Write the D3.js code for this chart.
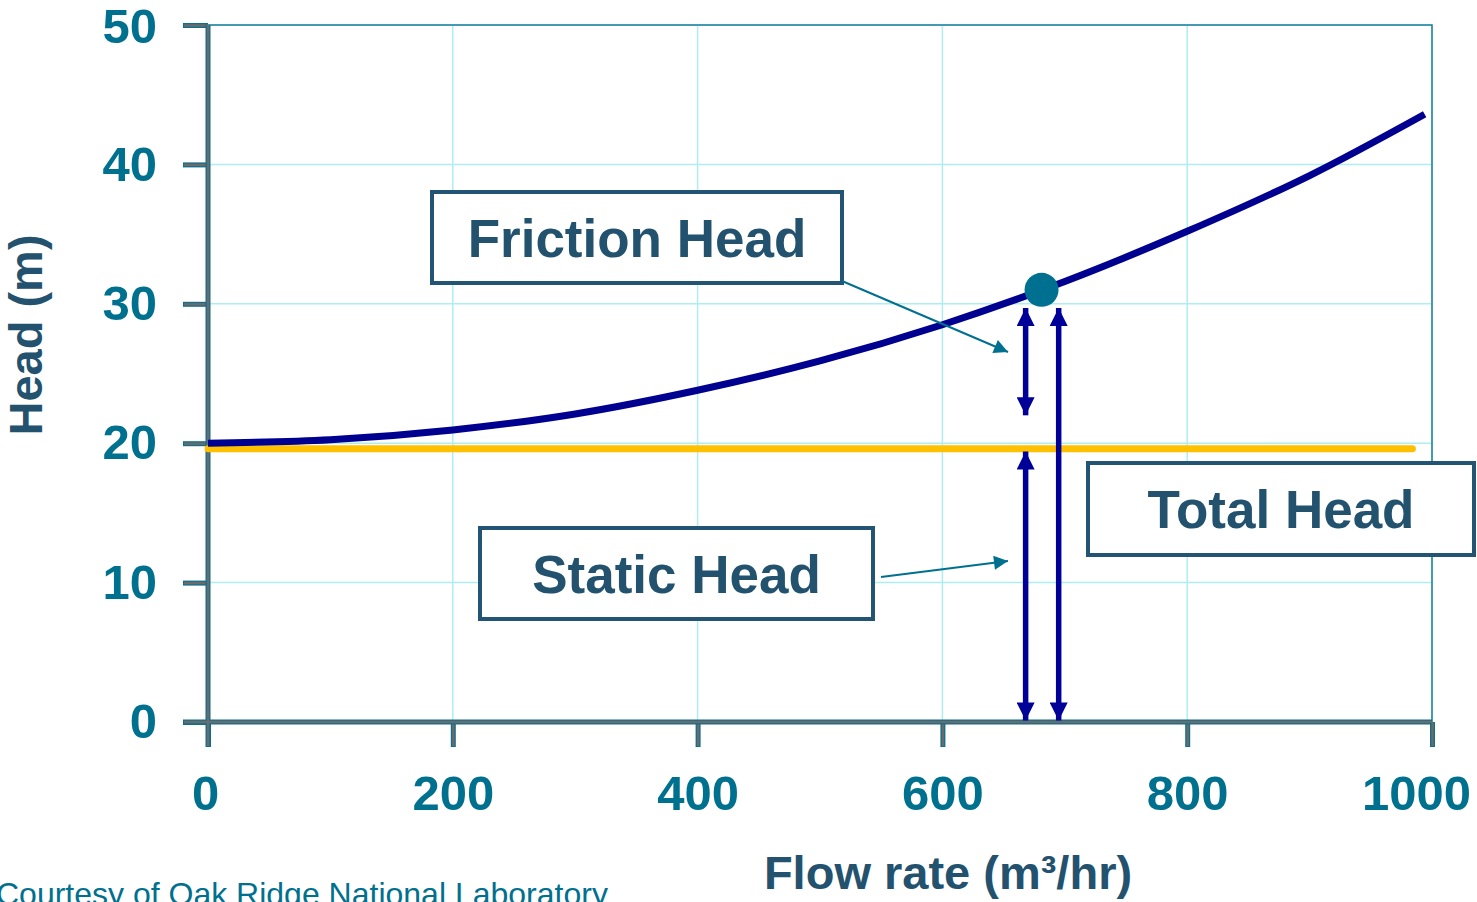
<!DOCTYPE html>
<html>
<head>
<meta charset="utf-8">
<script src="https://cdn.jsdelivr.net/npm/d3@7"></script>
<style>
  body { margin: 0; background: #fff; }
  svg text { font-family: "Liberation Sans", Arial, sans-serif; }
</style>
</head>
<body>
<div id="chart"></div>
<script>
// system curve
var flow = [0, 100, 200, 300, 400, 500, 600, 700, 800, 900, 994];
var systemHead = [20, 20.25, 20.95, 22.1, 23.8, 25.9, 28.5, 31.6, 35.2, 39.2, 43.6];
var staticFlow = [0, 984];
var staticHead = [19.6, 19.6];
var operatingPoint = [681, 31.0];
var xTicks = [0, 200, 400, 600, 800, 1000];
var yTicks = [0, 10, 20, 30, 40, 50];

var svgWidth = 1477;
var svgHeight = 902;

var margin = { top: 25, right: 45, bottom: 180, left: 208 };
var width = svgWidth - margin.left - margin.right;
var height = svgHeight - margin.top - margin.bottom;

var svg = d3.select("#chart")
    .append("svg")
    .attr("width", svgWidth)
    .attr("height", svgHeight);

var defs = svg.append("defs");
function marker(id, color, w, h) {
    defs.append("marker")
        .attr("id", id)
        .attr("viewBox", "0 0 10 10")
        .attr("refX", 10).attr("refY", 5)
        .attr("markerUnits", "userSpaceOnUse")
        .attr("markerWidth", w).attr("markerHeight", h)
        .attr("orient", "auto-start-reverse")
        .append("path")
        .attr("d", "M0,0 L10,5 L0,10 Z")
        .attr("fill", color);
}
marker("navyHead", "#000099", 20, 18);
marker("tealHead", "#007090", 16, 14);

var chartGroup = svg.append("g")
    .attr("transform", `translate(${margin.left}, ${margin.top})`);

var x = d3.scaleLinear().domain([0, 1000]).range([0, width]);
var y = d3.scaleLinear().domain([0, 50]).range([height, 0]);

// grid
chartGroup.append("g")
    .selectAll("line.vg")
    .data(xTicks.slice(1))
    .enter().append("line")
    .attr("x1", d => x(d)).attr("x2", d => x(d))
    .attr("y1", 0).attr("y2", height)
    .attr("stroke", "#aeeef2").attr("stroke-width", 1.5);
chartGroup.append("g")
    .selectAll("line.hg")
    .data(yTicks.slice(1))
    .enter().append("line")
    .attr("x1", 0).attr("x2", width)
    .attr("y1", d => y(d)).attr("y2", d => y(d))
    .attr("stroke", "#aeeef2").attr("stroke-width", 1.5);

// top / right frame
chartGroup.append("path")
    .attr("d", `M0,0 H${width} V${height}`)
    .attr("fill", "none")
    .attr("stroke", "#1b7f9a")
    .attr("stroke-width", 1.5);

// axes (teal outline round a grey line)
function drawAxis(g, gen) {
    g.call(gen);
    g.select(".domain").remove();
    g.selectAll(".tick text")
        .attr("fill", "#00708f")
        .style("font-size", "49px")
        .style("font-weight", "bold");
}
var bottomAxis = d3.axisBottom(x).tickValues(xTicks).tickFormat(d3.format("d"))
    .tickSize(25).tickPadding(28);
var leftAxis = d3.axisLeft(y).tickValues(yTicks).tickSize(25).tickPadding(26);

var xg = chartGroup.append("g").attr("transform", `translate(0, ${height})`);
drawAxis(xg, bottomAxis);
var yg = chartGroup.append("g");
drawAxis(yg, leftAxis);
yg.selectAll(".tick text").filter(d => d === 50).attr("dy", "0.36em");

[xg, yg].forEach(function(g) {
    g.selectAll(".tick line").attr("stroke", "#0e6f8c").attr("stroke-width", 5);
});
chartGroup.append("line")
    .attr("x1", -25).attr("x2", width).attr("y1", height).attr("y2", height)
    .attr("stroke", "#0e6f8c").attr("stroke-width", 5);
chartGroup.append("line")
    .attr("x1", 0).attr("x2", 0).attr("y1", 0).attr("y2", height + 25)
    .attr("stroke", "#0e6f8c").attr("stroke-width", 5);
[xg, yg].forEach(function(g) {
    g.selectAll(".tick").append("line")
        .attr("x1", 0).attr("y1", 0)
        .attr(g === xg ? "y2" : "x2", g === xg ? 24 : -24)
        .attr("stroke", "#6b6b6b").attr("stroke-width", 2.5);
});
chartGroup.append("line")
    .attr("x1", -24).attr("x2", width).attr("y1", height).attr("y2", height)
    .attr("stroke", "#6b6b6b").attr("stroke-width", 2.5);
chartGroup.append("line")
    .attr("x1", 0).attr("x2", 0).attr("y1", 0).attr("y2", height + 24)
    .attr("stroke", "#6b6b6b").attr("stroke-width", 2.5);
xg.selectAll(".tick text").attr("dy", "0.71em");
// first and last labels sit a little inward, as in the slide
xg.selectAll(".tick text").filter(d => d === 0).attr("dx", -3);
xg.selectAll(".tick text").filter(d => d === 1000).attr("dx", -16);

// static head
var line = d3.line().x(d => x(d[0])).y(d => y(d[1]));
chartGroup.append("path")
    .datum(staticFlow.map((f, i) => [f, staticHead[i]]))
    .attr("d", line)
    .attr("fill", "none")
    .attr("stroke", "#ffc000")
    .attr("stroke-width", 7)
    .attr("stroke-linecap", "round");

// system curve
chartGroup.append("path")
    .datum(flow.map((f, i) => [f, systemHead[i]]))
    .attr("d", line.curve(d3.curveMonotoneX))
    .attr("fill", "none")
    .attr("stroke", "#000090")
    .attr("stroke-width", 7);

chartGroup.append("circle")
    .attr("cx", x(operatingPoint[0]))
    .attr("cy", y(operatingPoint[1]))
    .attr("r", 17)
    .attr("fill", "#007090");

// head arrows
var headArrows = [
    { q: 668, from: 29.7, to: 22.0 },
    { q: 668, from: 19.4, to: 0.1 },
    { q: 695, from: 29.7, to: 0.1 }
];
chartGroup.selectAll("line.head")
    .data(headArrows)
    .enter().append("line")
    .attr("x1", d => x(d.q)).attr("x2", d => x(d.q))
    .attr("y1", d => y(d.from)).attr("y2", d => y(d.to))
    .attr("stroke", "#000099")
    .attr("stroke-width", 5.5)
    .attr("marker-start", "url(#navyHead)")
    .attr("marker-end", "url(#navyHead)");

// labels
var labels = [
    { text: "Friction Head", x0: 432, y0: 192, w: 410, h: 91 },
    { text: "Static Head", x0: 480, y0: 528, w: 393, h: 91 },
    { text: "Total Head", x0: 1088, y0: 463, w: 386, h: 92 }
];
labels.forEach(function(l) {
    svg.append("rect")
        .attr("x", l.x0).attr("y", l.y0)
        .attr("width", l.w).attr("height", l.h)
        .attr("fill", "#fff")
        .attr("stroke", "#245474")
        .attr("stroke-width", 4);
    svg.append("text")
        .attr("x", l.x0 + l.w / 2)
        .attr("y", l.y0 + l.h / 2 + 19)
        .attr("text-anchor", "middle")
        .attr("fill", "#23526f")
        .style("font-size", "53px")
        .style("font-weight", "bold")
        .text(l.text);
});

// leader arrows
var leaders = [
    [[842, 281], [1008, 352]],
    [[881, 577], [1008, 561]]
];
svg.selectAll("line.leader")
    .data(leaders)
    .enter().append("line")
    .attr("x1", d => d[0][0]).attr("y1", d => d[0][1])
    .attr("x2", d => d[1][0]).attr("y2", d => d[1][1])
    .attr("stroke", "#007090")
    .attr("stroke-width", 2)
    .attr("marker-end", "url(#tealHead)");

// axis titles
svg.append("text")
    .attr("transform", "translate(42, 335) rotate(-90)")
    .attr("text-anchor", "middle")
    .attr("fill", "#23526f")
    .style("font-size", "47px")
    .style("font-weight", "bold")
    .text("Head (m)");

svg.append("text")
    .attr("x", 948).attr("y", 889)
    .attr("text-anchor", "middle")
    .attr("fill", "#23526f")
    .style("font-size", "47px")
    .style("font-weight", "bold")
    .text("Flow rate (m³/hr)");

svg.append("text")
    .attr("x", -4).attr("y", 905)
    .attr("fill", "#00708f")
    .style("font-size", "32px")
    .text("Courtesy of Oak Ridge National Laboratory");
</script>
</body>
</html>
